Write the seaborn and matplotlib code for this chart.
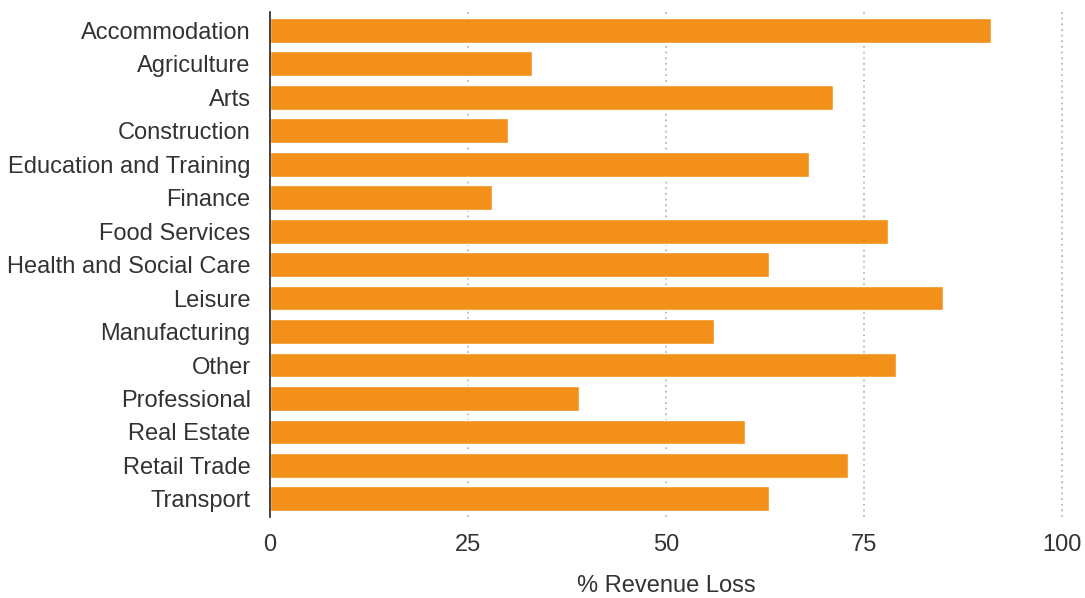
import matplotlib
matplotlib.use("Agg")
import matplotlib.pyplot as plt
import seaborn as sns
import pandas as pd

industries = ['Accommodation', 'Agriculture', 'Arts', 'Construction',
              'Education and Training', 'Finance', 'Food Services',
              'Health and Social Care', 'Leisure', 'Manufacturing', 'Other',
              'Professional', 'Real Estate', 'Retail Trade', 'Transport']
revenue_loss = [91, 33, 71, 30, 68, 28, 78, 63, 85, 56, 79, 39, 60, 73, 63]
x_ticks = [0, 25, 50, 75, 100]

df = pd.DataFrame({'Industry': industries, 'Loss': revenue_loss})

sns.set_style('white')
plt.rcParams['font.family'] = ['Liberation Sans', 'DejaVu Sans']

fig, ax = plt.subplots(figsize=(10.85, 5.98), dpi=100)
fig.subplots_adjust(left=0.249, right=0.979, top=0.98, bottom=0.135)

sns.barplot(data=df, x='Loss', y='Industry', color='#F39019', saturation=1,
            width=0.74, ax=ax)

ax.set_xlim(0, 100)
ax.set_ylim(len(industries) - 0.45, -0.55)
ax.set_xticks(x_ticks)
ax.set_xticklabels([str(t) for t in x_ticks])
for t in x_ticks[1:]:
    ax.axvline(t, color='#aaaaaa', linestyle=(0, (1.2, 2.5)), linewidth=1.1,
               zorder=0, clip_on=False)

for s in ['top', 'right', 'bottom']:
    ax.spines[s].set_visible(False)
ax.spines['left'].set_color('#222222')
ax.spines['left'].set_linewidth(1.2)

ax.tick_params(axis='both', length=0, labelsize=17, colors='#333333')
ax.tick_params(axis='x', pad=12)
ax.tick_params(axis='y', pad=14)
ax.set_ylabel('')
ax.set_xlabel('% Revenue Loss', fontsize=17, color='#333333', labelpad=14)

fig.savefig('out.png', dpi=100)
